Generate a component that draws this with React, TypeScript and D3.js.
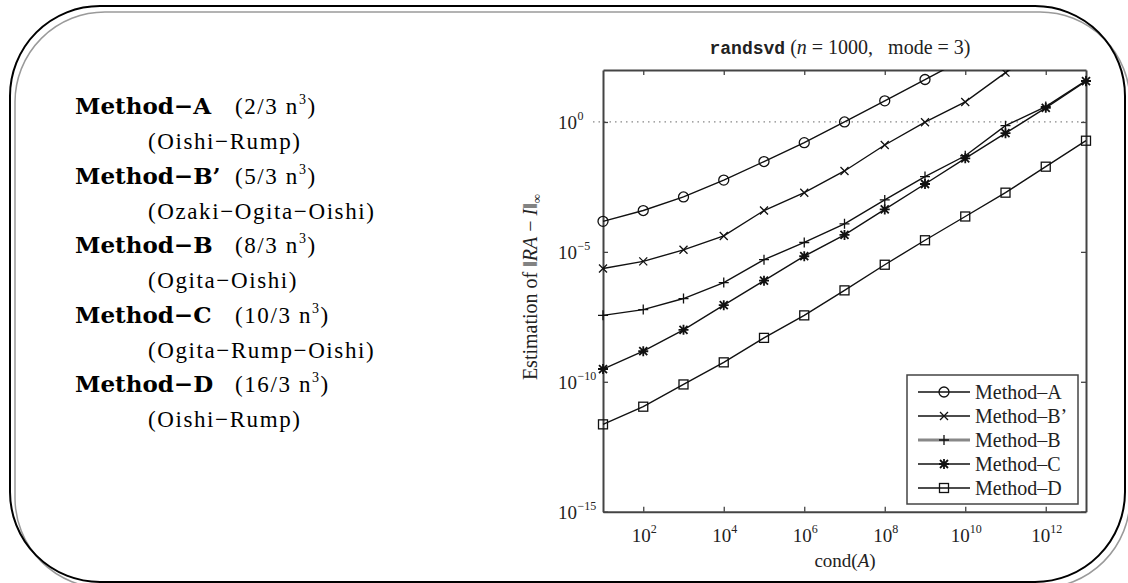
import { useEffect, useRef } from "react";
import * as d3 from "d3";

// condition numbers on the x axis
const condValues = [1e1, 1e2, 1e3, 1e4, 1e5, 1e6, 1e7, 1e8, 1e9, 1e10, 1e11, 1e12, 1e13];

// estimated ||RA - I||_inf
const methodA = [1.5e-4, 3.9e-4, 1.3e-3, 5.8e-3, 3.0e-2, 0.16, 1.0, 6.5, 43, 280];
const methodBPrime = [2.3e-6, 4.3e-6, 1.2e-5, 4.1e-5, 3.9e-4, 1.9e-3, 1.3e-2, 0.13, 0.98, 5.9, 79, 800];
const methodB = [3.6e-8, 6.0e-8, 1.6e-7, 6.6e-7, 5.0e-6, 2.3e-5, 1.2e-4, 1.0e-3, 7.9e-3, 5.0e-2, 0.72, 3.9, 39];
const methodC = [3.1e-10, 1.5e-9, 1.0e-8, 8.9e-8, 7.8e-7, 6.8e-6, 4.5e-5, 4.3e-4, 4.1e-3, 4.0e-2, 0.37, 3.5, 37];
const methodD = [2.3e-12, 1.1e-11, 7.9e-11, 5.6e-10, 4.9e-9, 3.6e-8, 3.3e-7, 3.2e-6, 2.8e-5, 2.3e-4, 1.9e-3, 1.9e-2, 0.19];

const legendLabels = ["Method\u2013A", "Method\u2013B\u2019", "Method\u2013B", "Method\u2013C", "Method\u2013D"];
const markerKinds = ["circle", "cross", "plus", "star", "square"];

const xTicks = [1e2, 1e4, 1e6, 1e8, 1e10, 1e12];
const yTicks = [1e-15, 1e-10, 1e-5, 1e0];

// text panel on the left
const methodNames = ["Method\u2212A", "Method\u2212B\u2019", "Method\u2212B", "Method\u2212C", "Method\u2212D"];
const methodCosts = ["(2/3 n", "(5/3 n", "(8/3 n", "(10/3 n", "(16/3 n"];
const methodAuthors = [
  "(Oishi\u2212Rump)",
  "(Ozaki\u2212Ogita\u2212Oishi)",
  "(Ogita\u2212Oishi)",
  "(Ogita\u2212Rump\u2212Oishi)",
  "(Oishi\u2212Rump)",
];

const W = 1128;
const H = 583;
const serif = "'Liberation Serif', 'Times New Roman', serif";
const slideFont = "'DejaVu Serif', serif";
const axisColor = "#444";

type Pt = { x: number; y: number };

const drawMarker = (
  g: d3.Selection<SVGGElement, unknown, null, undefined>,
  kind: string,
  cx: number,
  cy: number
) => {
  const s = g.append("g").attr("stroke", "#111").attr("stroke-width", 1.3).attr("fill", "none");
  if (kind === "circle") {
    s.append("circle").attr("cx", cx).attr("cy", cy).attr("r", 5);
  } else if (kind === "square") {
    s.append("rect").attr("x", cx - 4.5).attr("y", cy - 4.5).attr("width", 9).attr("height", 9);
  } else {
    const p = d3.path();
    if (kind === "plus" || kind === "star") {
      p.moveTo(cx - 5, cy);
      p.lineTo(cx + 5, cy);
      p.moveTo(cx, cy - 5);
      p.lineTo(cx, cy + 5);
    }
    if (kind === "cross" || kind === "star") {
      p.moveTo(cx - 4, cy - 4);
      p.lineTo(cx + 4, cy + 4);
      p.moveTo(cx - 4, cy + 4);
      p.lineTo(cx + 4, cy - 4);
    }
    s.append("path").attr("d", p.toString()).attr("stroke-width", kind === "star" ? 1.8 : 1.3);
  }
};

const App = () => {
  const svgRef = useRef<SVGSVGElement | null>(null);

  useEffect(() => {
    const svg = d3.select(svgRef.current);
    svg.selectAll("*").remove();

    // slide frame: black rounded box plus grey offset copy
    svg.append("rect")
      .attr("x", 15).attr("y", 12).attr("width", 1115).attr("height", 576)
      .attr("rx", 90).attr("ry", 90)
      .attr("fill", "none").attr("stroke", "#9a9a9a").attr("stroke-width", 1.5);
    svg.append("rect")
      .attr("x", 10).attr("y", 6).attr("width", 1115).attr("height", 576)
      .attr("rx", 90).attr("ry", 90)
      .attr("fill", "none").attr("stroke", "#000").attr("stroke-width", 2);

    // left text panel
    const panel = svg.append("g").attr("fill", "#000");
    methodNames.forEach((name, i) => {
      const y0 = 114 + i * 69.5;
      panel.append("text")
        .attr("x", 75).attr("y", y0)
        .attr("font-family", slideFont)
        .attr("font-size", 23).attr("font-weight", "bold")
        .text(name);
      const cost = panel.append("text")
        .attr("x", 235).attr("y", y0)
        .attr("font-family", serif)
        .attr("font-size", 23).attr("letter-spacing", 1.6);
      cost.append("tspan").text(methodCosts[i]);
      cost.append("tspan").attr("font-size", 14).attr("dy", -10).text("3");
      cost.append("tspan").attr("dy", 10).text(")");
      panel.append("text")
        .attr("x", 148).attr("y", y0 + 35)
        .attr("font-family", serif)
        .attr("font-size", 23).attr("letter-spacing", 1.6)
        .text(methodAuthors[i]);
    });

    // plot area
    const left = 603;
    const right = 1086;
    const top = 70;
    const bottom = 511.7;

    const x = d3.scaleLog().domain([1e1, 1e13]).range([left, right]);
    const y = d3.scaleLog().domain([1e-15, 1e2]).range([bottom, top]);

    svg.append("defs")
      .append("clipPath").attr("id", "plotClip")
      .append("rect")
      .attr("x", left - 6).attr("y", top).attr("width", right - left + 12).attr("height", bottom - top);

    // dotted reference line at 10^0
    svg.append("line")
      .attr("x1", 593).attr("x2", right)
      .attr("y1", y(1)).attr("y2", y(1))
      .attr("stroke", "#888").attr("stroke-width", 1.3)
      .attr("stroke-dasharray", "1.5,4");

    const styleAxis = (g: d3.Selection<SVGGElement, unknown, null, undefined>) => {
      g.select(".domain").attr("stroke", axisColor).attr("stroke-width", 2);
      g.selectAll(".tick line").attr("stroke", axisColor).attr("stroke-width", 1.3);
      g.selectAll(".tick text").remove();
    };

    svg.append("g").attr("transform", `translate(0,${bottom})`)
      .call(d3.axisBottom(x).tickValues(xTicks).tickSize(-5).tickSizeOuter(0).tickFormat(() => ""))
      .call(styleAxis);
    svg.append("g").attr("transform", `translate(0,${top})`)
      .call(d3.axisTop(x).tickValues(xTicks).tickSize(-5).tickSizeOuter(0).tickFormat(() => ""))
      .call(styleAxis);
    svg.append("g").attr("transform", `translate(${left},0)`)
      .call(d3.axisLeft(y).tickValues(yTicks).tickSize(-5).tickSizeOuter(0).tickFormat(() => ""))
      .call(styleAxis);
    svg.append("g").attr("transform", `translate(${right},0)`)
      .call(d3.axisRight(y).tickValues(yTicks).tickSize(-5).tickSizeOuter(0).tickFormat(() => ""))
      .call(styleAxis);

    // tick labels as 10^k
    const labels = svg.append("g").attr("font-family", serif).attr("fill", "#222");
    xTicks.forEach((v) => {
      const t = labels.append("text")
        .attr("x", x(v) + 1).attr("y", 541.5)
        .attr("text-anchor", "middle").attr("font-size", 19);
      t.append("tspan").text("10");
      t.append("tspan").attr("font-size", 12).attr("dy", -9).text(String(Math.round(Math.log10(v))));
    });
    yTicks.forEach((v) => {
      const exp = Math.round(Math.log10(v));
      const ty = y(v) + 7;
      labels.append("text")
        .attr("x", 577).attr("y", ty)
        .attr("text-anchor", "end").attr("font-size", 19)
        .text("10");
      labels.append("text")
        .attr("x", 577.5).attr("y", ty - 9)
        .attr("font-size", 12)
        .text(exp < 0 ? `\u2212${-exp}` : String(exp));
    });

    // title
    const title = svg.append("text")
      .attr("x", 840).attr("y", 54)
      .attr("text-anchor", "middle")
      .attr("font-family", serif).attr("font-size", 20).attr("fill", "#222");
    title.append("tspan")
      .attr("font-family", "'Liberation Mono', monospace").attr("font-size", 18)
      .attr("font-weight", "bold")
      .text("randsvd");
    title.append("tspan").text(" (");
    title.append("tspan").attr("font-style", "italic").text("n");
    title.append("tspan").text("\u2005=\u20051000,\u2002 mode\u2005=\u20053)");

    // axis titles
    const xl = svg.append("text")
      .attr("x", 845).attr("y", 567)
      .attr("text-anchor", "middle")
      .attr("font-family", serif).attr("font-size", 19).attr("fill", "#222");
    xl.append("tspan").text("cond(");
    xl.append("tspan").attr("font-style", "italic").text("A");
    xl.append("tspan").text(")");

    const yl = svg.append("text")
      .attr("transform", `translate(537,287) rotate(-90)`)
      .attr("text-anchor", "middle")
      .attr("font-family", serif).attr("font-size", 20).attr("fill", "#222");
    yl.append("tspan").text("Estimation of \u2016");
    yl.append("tspan").attr("font-style", "italic").text("RA");
    yl.append("tspan").text(" \u2212 ");
    yl.append("tspan").attr("font-style", "italic").text("I");
    yl.append("tspan").text("\u2016");
    yl.append("tspan").attr("font-size", 13).attr("dy", 4).text("\u221E");

    // series
    const seriesValues = [methodA, methodBPrime, methodB, methodC, methodD];
    const line = d3.line<Pt>().x((d) => d.x).y((d) => d.y);
    const plot = svg.append("g").attr("clip-path", "url(#plotClip)");
    seriesValues.forEach((vals, i) => {
      const pts: Pt[] = vals.map((v, j) => ({ x: x(condValues[j]), y: y(v) }));
      plot.append("path")
        .datum(pts)
        .attr("fill", "none").attr("stroke", "#111").attr("stroke-width", 1.4)
        .attr("d", line);
      pts.forEach((p) => drawMarker(plot, markerKinds[i], p.x, p.y));
    });

    // legend
    const lg = svg.append("g");
    lg.append("rect")
      .attr("x", 907).attr("y", 375).attr("width", 171).attr("height", 129)
      .attr("fill", "#fff").attr("stroke", axisColor).attr("stroke-width", 1.5);
    legendLabels.forEach((label, i) => {
      const ly = 392 + i * 24;
      const isB = i === 2;
      lg.append("line")
        .attr("x1", 918).attr("x2", 970).attr("y1", ly).attr("y2", ly)
        .attr("stroke", isB ? "#888" : "#111").attr("stroke-width", isB ? 3 : 1.4);
      drawMarker(lg, markerKinds[i], 944, ly);
      lg.append("text")
        .attr("x", 975).attr("y", ly + 7)
        .attr("font-family", serif).attr("font-size", 20).attr("fill", "#222")
        .text(label);
    });
  }, []);

  return (
    <svg
      ref={svgRef}
      width={W}
      height={H}
      style={{ position: "absolute", left: 0, top: 0, background: "#fff" }}
    />
  );
};

export default App;
